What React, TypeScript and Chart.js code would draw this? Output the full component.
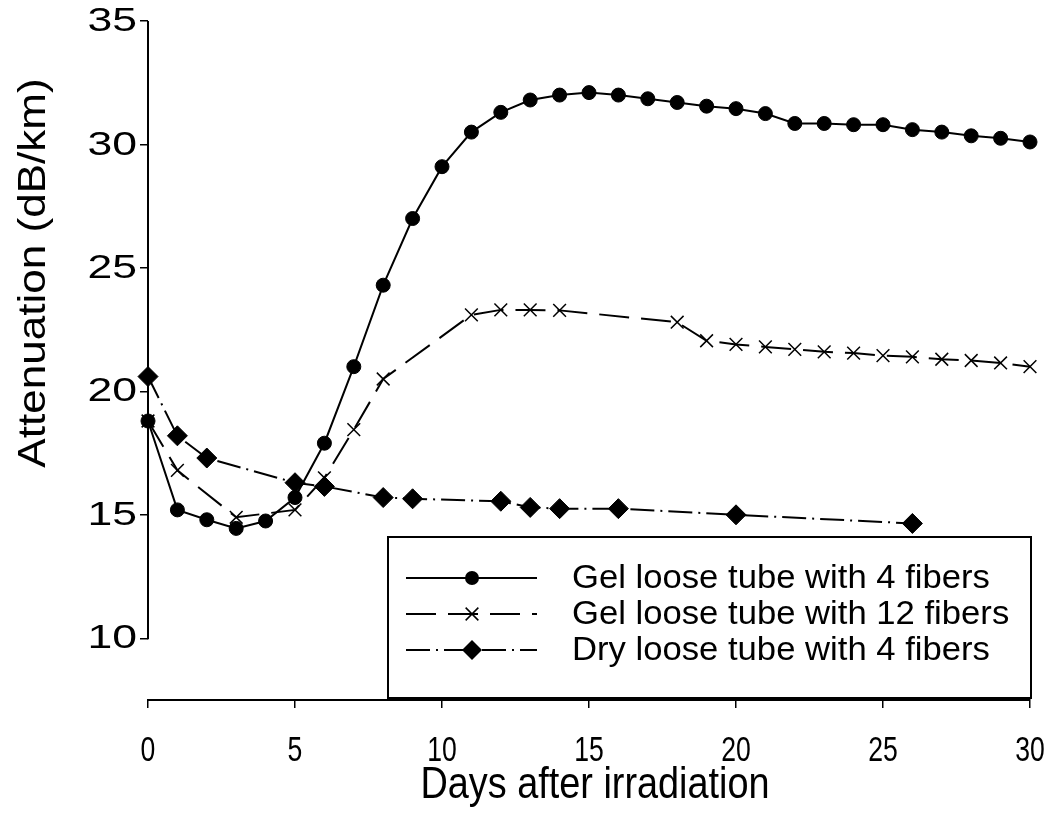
import React, { useEffect, useRef } from "react";
import { Chart, registerables } from "chart.js";

Chart.register(...registerables);

// ---- data ----
const gel4Days = [0, 1, 2, 3, 4, 5, 6, 7, 8, 9, 10, 11, 12, 13, 14, 15, 16, 17, 18, 19, 20, 21, 22, 23, 24, 25, 26, 27, 28, 29, 30];
const gel4Values = [18.8, 15.2, 14.8, 14.45, 14.75, 15.7, 17.9, 21.0, 24.3, 27.0, 29.1, 30.5, 31.3, 31.8, 32.0, 32.1, 32.0, 31.85, 31.7, 31.55, 31.45, 31.25, 30.85, 30.85, 30.8, 30.8, 30.6, 30.5, 30.35, 30.25, 30.1];

const gel12Days = [0, 1, 3, 5, 6, 7, 8, 11, 12, 13, 14, 18, 19, 20, 21, 22, 23, 24, 25, 26, 27, 28, 29, 30];
const gel12Values = [18.8, 16.8, 14.9, 15.2, 16.5, 18.45, 20.5, 23.1, 23.3, 23.3, 23.28, 22.8, 22.05, 21.9, 21.8, 21.7, 21.6, 21.55, 21.45, 21.4, 21.3, 21.25, 21.15, 21.0];

const dryDays = [0, 1, 2, 5, 6, 8, 9, 12, 13, 14, 16, 20, 26];
const dryValues = [20.6, 18.2, 17.3, 16.3, 16.15, 15.7, 15.65, 15.55, 15.3, 15.25, 15.25, 15.0, 14.65];

const seriesNames = ["Gel loose tube with 4 fibers", "Gel loose tube with 12 fibers", "Dry loose tube with 4 fibers"];
const xTicks = [0, 5, 10, 15, 20, 25, 30];
const yTicks = [10, 15, 20, 25, 30, 35];
const xTitle = "Days after irradiation";
const yTitle = "Attenuation (dB/km)";

const FONT = '"Liberation Sans", Arial, Helvetica, sans-serif';

const toPoints = (days: number[], vals: number[]) => days.map((d, i) => ({ x: d, y: vals[i] }));

function drawText(
  ctx: CanvasRenderingContext2D,
  text: string,
  x: number,
  y: number,
  fs: number,
  sx: number,
  align: CanvasTextAlign,
  baseline: CanvasTextBaseline,
  rot = 0
) {
  ctx.save();
  ctx.translate(x, y);
  if (rot) ctx.rotate(rot);
  ctx.scale(sx, 1);
  ctx.font = `${fs}px ${FONT}`;
  ctx.fillStyle = "#000";
  ctx.textAlign = align;
  ctx.textBaseline = baseline;
  ctx.fillText(text, 0, 0);
  ctx.restore();
}

function drawMarker(ctx: CanvasRenderingContext2D, style: string, x: number, y: number, r: number) {
  ctx.save();
  ctx.setLineDash([]);
  ctx.fillStyle = "#000";
  ctx.strokeStyle = "#000";
  ctx.beginPath();
  if (style === "circle") {
    ctx.arc(x, y, r, 0, Math.PI * 2);
    ctx.fill();
  } else if (style === "crossRot") {
    const o = r * Math.SQRT1_2;
    ctx.lineWidth = 1.5;
    ctx.moveTo(x - o, y - o);
    ctx.lineTo(x + o, y + o);
    ctx.moveTo(x + o, y - o);
    ctx.lineTo(x - o, y + o);
    ctx.stroke();
  } else {
    ctx.moveTo(x - r, y);
    ctx.lineTo(x, y - r);
    ctx.lineTo(x + r, y);
    ctx.lineTo(x, y + r);
    ctx.closePath();
    ctx.fill();
  }
  ctx.restore();
}

const annotationsPlugin = {
  id: "sigmaStyle",
  afterDraw(chart: any) {
    const ctx: CanvasRenderingContext2D = chart.ctx;
    const xs = chart.scales.x;
    const ys = chart.scales.y;
    const area = chart.chartArea;

    // y axis line (from 35 down to 10)
    ctx.save();
    ctx.strokeStyle = "#000";
    ctx.lineWidth = 2;
    ctx.beginPath();
    ctx.moveTo(area.left, ys.getPixelForValue(yTicks[yTicks.length - 1]));
    ctx.lineTo(area.left, ys.getPixelForValue(yTicks[0]) + 1);
    ctx.stroke();
    ctx.restore();

    // y tick labels
    yTicks.forEach((v) => {
      drawText(ctx, String(v), area.left - 11, ys.getPixelForValue(v) + 1, 33, 1.35, "right", "middle");
    });
    // x tick labels
    xTicks.forEach((v) => {
      drawText(ctx, String(v), xs.getPixelForValue(v), 761, 35, 0.76, "center", "alphabetic");
    });
    // titles
    drawText(ctx, xTitle, 595, 798, 44, 0.86, "center", "alphabetic");
    drawText(ctx, yTitle, 45, 273, 39, 1.13, "center", "alphabetic", -Math.PI / 2);

    // legend
    const bx = 388, by = 537, bw = 643, bh = 161;
    ctx.save();
    ctx.fillStyle = "#fff";
    ctx.fillRect(bx, by, bw, bh);
    ctx.strokeStyle = "#000";
    ctx.lineWidth = 2;
    ctx.strokeRect(bx, by, bw, bh);
    ctx.restore();
    const rows = [578, 614, 650];
    chart.data.datasets.forEach((ds: any, i: number) => {
      const y = rows[i];
      ctx.save();
      ctx.strokeStyle = "#000";
      ctx.lineWidth = ds.borderWidth;
      ctx.setLineDash(ds.borderDash || []);
      ctx.beginPath();
      ctx.moveTo(406, y);
      ctx.lineTo(537, y);
      ctx.stroke();
      ctx.restore();
      drawMarker(ctx, ds.pointStyle, 472, y, ds.pointRadius);
      drawText(ctx, ds.label, 572, y + 1, 33, 1.05, "left", "middle");
    });
  },
};

export default function App() {
  const canvasRef = useRef<HTMLCanvasElement | null>(null);

  useEffect(() => {
    const canvas = canvasRef.current;
    if (!canvas) return;
    const chart = new Chart(canvas, {
      type: "line",
      data: {
        datasets: [
          {
            label: seriesNames[0],
            data: toPoints(gel4Days, gel4Values),
            borderColor: "#000",
            backgroundColor: "#000",
            borderWidth: 2,
            pointStyle: "circle",
            pointRadius: 7,
            pointBorderWidth: 1,
            pointBackgroundColor: "#000",
            pointBorderColor: "#000",
            tension: 0,
            clip: false,
          } as any,
          {
            label: seriesNames[1],
            data: toPoints(gel12Days, gel12Values),
            borderColor: "#000",
            backgroundColor: "#000",
            borderWidth: 2,
            borderDash: [30, 12],
            pointStyle: "crossRot",
            pointRadius: 9,
            pointBorderWidth: 1.5,
            pointBorderColor: "#000",
            tension: 0,
            clip: false,
          } as any,
          {
            label: seriesNames[2],
            data: toPoints(dryDays, dryValues),
            borderColor: "#000",
            backgroundColor: "#000",
            borderWidth: 2,
            borderDash: [24, 6, 2, 6],
            pointStyle: "rectRot",
            pointRadius: 10,
            pointBorderWidth: 1,
            pointBackgroundColor: "#000",
            pointBorderColor: "#000",
            tension: 0,
            clip: false,
          } as any,
        ],
      },
      options: {
        responsive: false,
        animation: false,
        devicePixelRatio: 1,
        layout: { padding: { left: 140, right: 19, top: 21, bottom: 115 } },
        plugins: { legend: { display: false }, tooltip: { enabled: false }, title: { display: false } },
        scales: {
          x: {
            type: "linear",
            min: 0,
            max: 30,
            afterBuildTicks: (axis: any) => {
              axis.ticks = xTicks.map((v) => ({ value: v }));
            },
            ticks: { display: false },
            grid: { drawOnChartArea: false, drawTicks: true, tickLength: 8, color: "#000", lineWidth: 1.5 },
            border: { display: true, color: "#000", width: 2 },
          },
          y: {
            type: "linear",
            min: 7.5,
            max: 35,
            afterBuildTicks: (axis: any) => {
              axis.ticks = yTicks.map((v) => ({ value: v }));
            },
            ticks: { display: false },
            grid: { drawOnChartArea: false, drawTicks: true, tickLength: 8, color: "#000", lineWidth: 1.5 },
            border: { display: false },
          },
        },
      },
      plugins: [annotationsPlugin],
    });
    return () => chart.destroy();
  }, []);

  return (
    <div style={{ position: "absolute", left: 0, top: 0, width: 1049, height: 823, background: "#fff" }}>
      <canvas ref={canvasRef} width={1049} height={823} style={{ display: "block", width: 1049, height: 823 }} />
    </div>
  );
}
